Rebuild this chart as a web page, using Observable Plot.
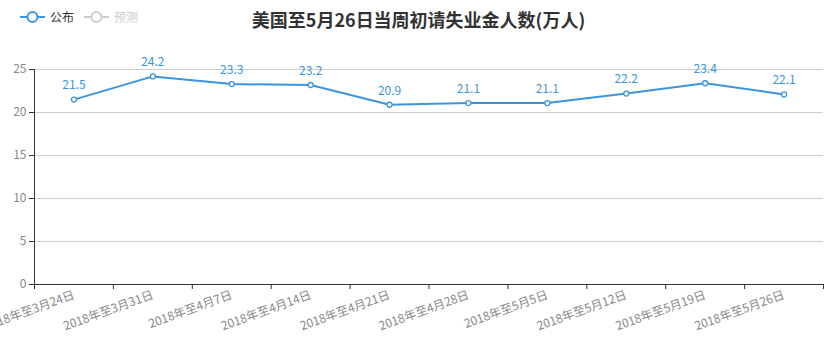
<!DOCTYPE html>
<html><head><meta charset="utf-8">
<script src="https://cdn.jsdelivr.net/npm/d3@7"></script>
<script src="https://cdn.jsdelivr.net/npm/@observablehq/plot@0.6"></script>
<style>
body{margin:0;background:#fff;font-family:"Noto Sans CJK SC","Noto Sans",sans-serif;}
#head{position:relative;width:837px;height:40px;}
#title{position:absolute;left:0;top:7px;width:837px;text-align:center;font-size:18px;font-weight:bold;color:#333;line-height:24px;}
.lg{position:absolute;top:9px;font-size:12px;line-height:16px;display:flex;align-items:center;}
.lg svg{margin-right:5px;}
#chart svg{overflow:visible;}
</style></head>
<body>
<div id="head">
  <div class="lg" style="left:20px;color:#333"><svg width="25" height="14"><line x1="0" y1="7" x2="25" y2="7" stroke="#3a95de" stroke-width="2"/><circle cx="12.5" cy="7" r="5" fill="#fff" stroke="#3a95de" stroke-width="2"/></svg>公布</div>
  <div class="lg" style="left:84px;color:#ccc"><svg width="25" height="14"><line x1="0" y1="7" x2="25" y2="7" stroke="#ccc" stroke-width="2"/><circle cx="12.5" cy="7" r="5" fill="#fff" stroke="#ccc" stroke-width="2"/></svg>预测</div>
  <div id="title">美国至5月26日当周初请失业金人数(万人)</div>
</div>
<div id="chart"></div>
<script>
const categories = ["2018年至3月24日","2018年至3月31日","2018年至4月7日","2018年至4月14日","2018年至4月21日","2018年至4月28日","2018年至5月5日","2018年至5月12日","2018年至5月19日","2018年至5月26日"];
const values = [21.5, 24.2, 23.3, 23.2, 20.9, 21.1, 21.1, 22.2, 23.4, 22.1];
const yTicks = [0, 5, 10, 15, 20, 25];

const n = categories.length;
const data = categories.map((c, i) => ({i, c, v: values[i]}));
const blue = "#3a95de";
const font = '"Noto Sans CJK SC","Noto Sans",sans-serif';

const chart = Plot.plot({
  width: 837, height: 316,
  marginLeft: 34, marginRight: 14, marginTop: 29, marginBottom: 72,
  style: {fontFamily: font, fontSize: "12px", background: "#fff", overflow: "visible"},
  x: {type: "linear", domain: [-0.5, n - 0.5]},
  y: {domain: [0, 25]},
  marks: [
    Plot.gridY(yTicks.filter(d => d > 0), {stroke: "#ccc", strokeOpacity: 1}),
    Plot.axisY({ticks: yTicks, tickSize: 5, tickPadding: 3, stroke: "#333", fill: "#888", label: null, tickFormat: d => String(d)}),
    Plot.axisX({ticks: d3.range(n + 1).map(i => i - 0.5), tickSize: 5, stroke: "#333", tickFormat: () => "", label: null}),
    Plot.axisX({ticks: d3.range(n), tickSize: 0, tickPadding: 10, tickRotate: -20, fill: "#888", tickFormat: i => categories[i], label: null}),
    Plot.ruleY([0], {stroke: "#333"}),
    Plot.ruleX([-0.5], {stroke: "#333"}),
    Plot.line(data, {x: "i", y: "v", stroke: blue, strokeWidth: 2}),
    Plot.dot(data, {x: "i", y: "v", r: 2.5, fill: "#fff", stroke: blue, strokeWidth: 1.3}),
    Plot.text(data, {x: "i", y: "v", text: d => d.v.toFixed(1), dy: -14, fill: blue, fontSize: 12})
  ]
});
document.getElementById("chart").appendChild(chart);
</script>
</body></html>
